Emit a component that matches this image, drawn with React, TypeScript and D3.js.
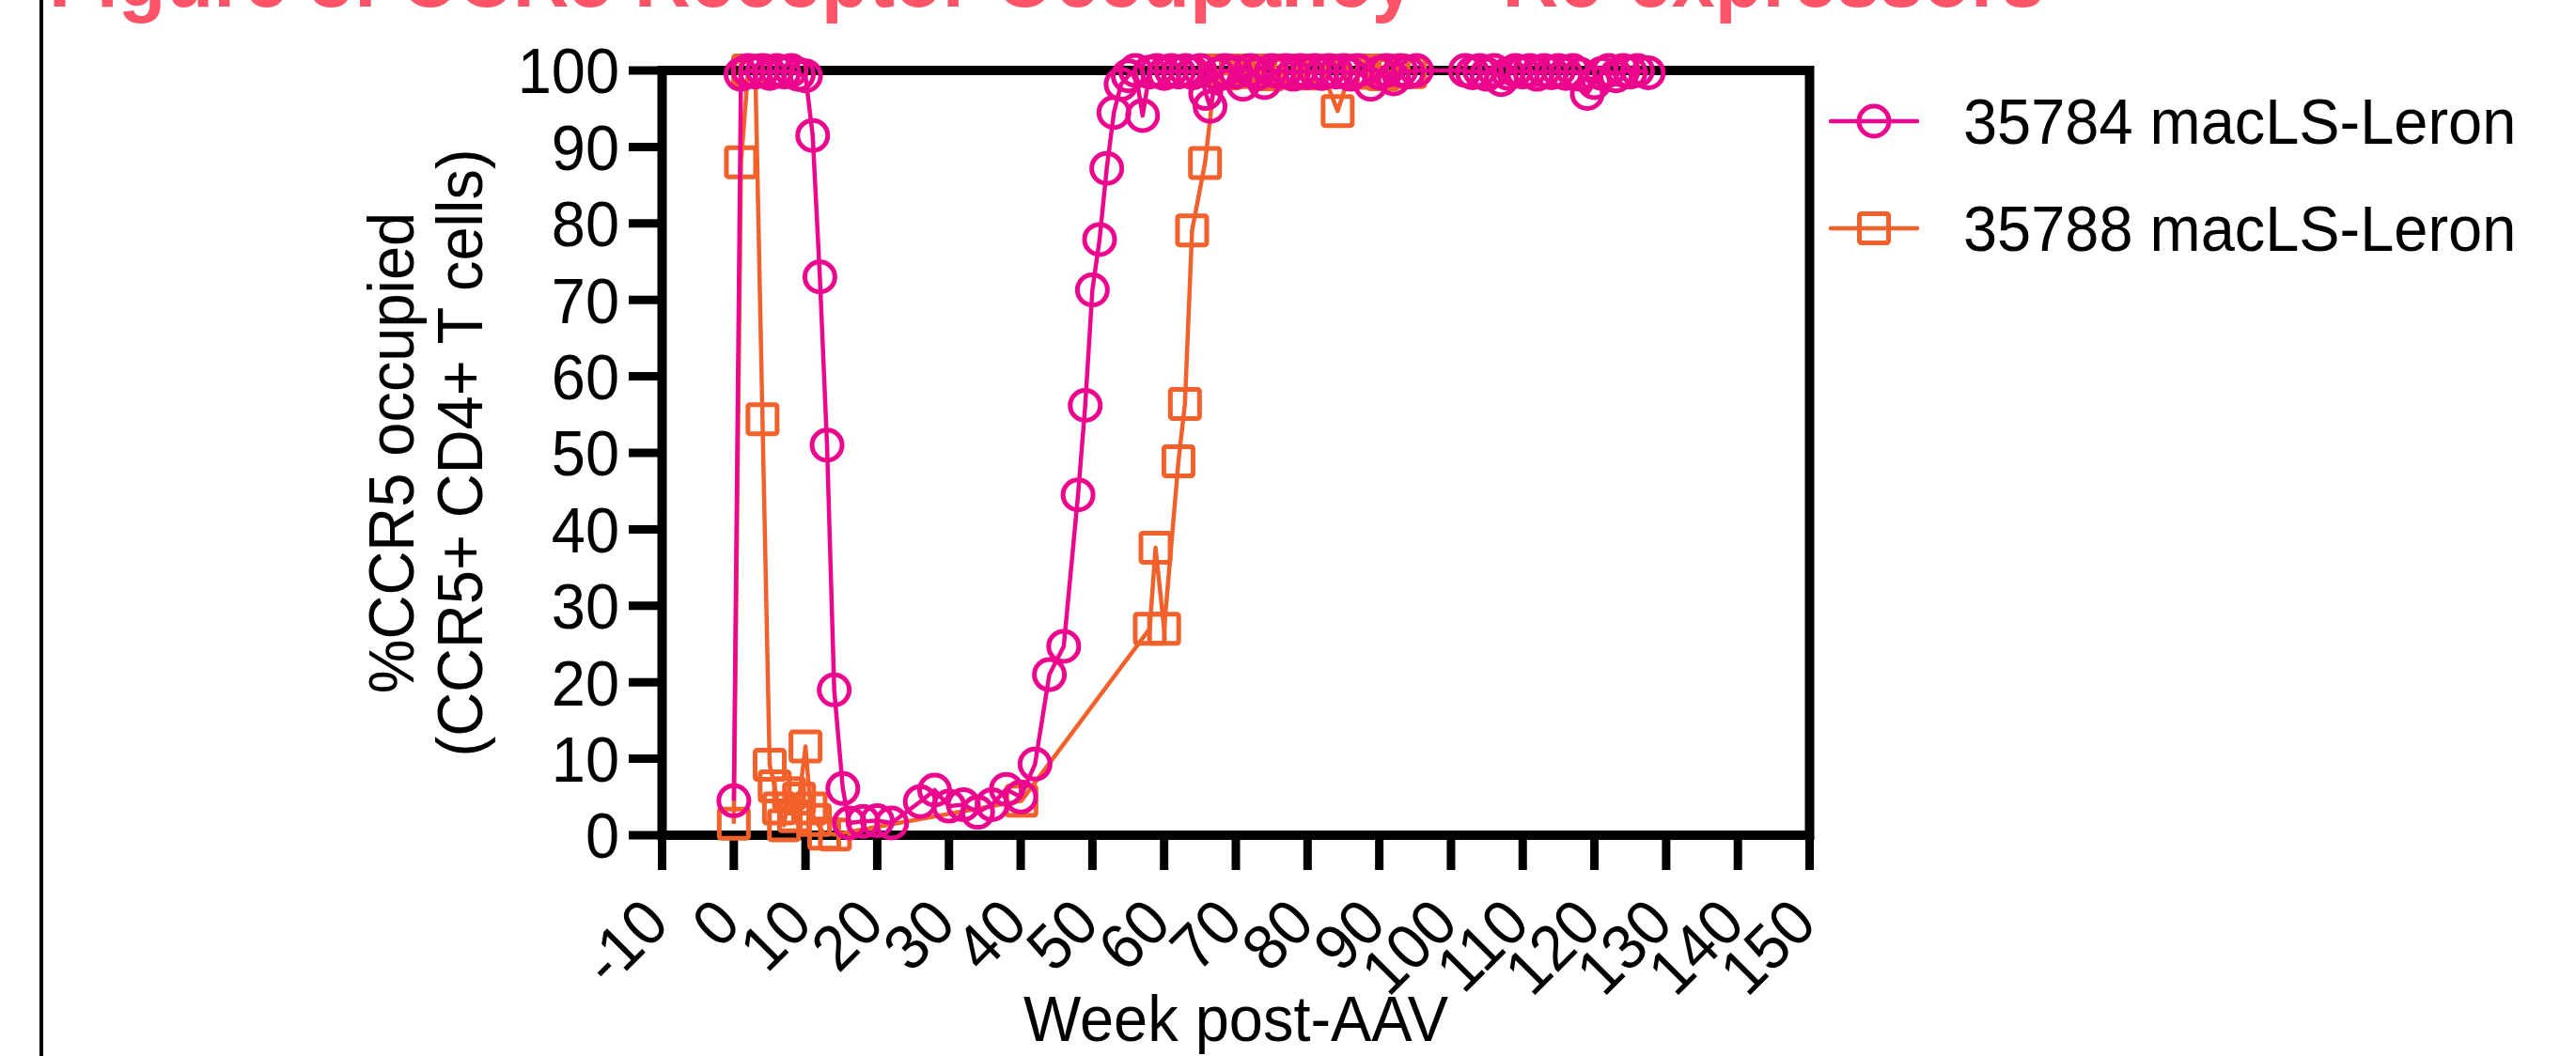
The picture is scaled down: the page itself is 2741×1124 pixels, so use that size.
import React from 'react';
import * as d3 from 'd3';

// week post-AAV and %CCR5 occupied
const weeks35784 = [
  0, 1, 2, 3, 4, 5, 6, 7, 8, 9, 10, 11, 12, 13, 14, 15.2, 16.1, 18, 20, 22,
  26, 28, 30, 32, 34, 36, 38, 40, 42, 44, 46, 48, 49, 50, 51, 52, 53, 54, 55, 56,
  57, 58, 59, 60, 61, 62, 63, 64, 65, 65.8, 66.4, 67.5, 68.5, 70, 71, 72, 73, 74, 75, 76,
  77, 78, 79, 80, 81, 82, 83, 84, 85, 86, 87, 88.8, 90, 91, 92, 93, 94, 95.2,
  102, 103, 104, 105, 106, 107, 108, 109, 110, 111, 112, 113, 114, 115, 116, 117, 118, 119, 120,
  121, 122, 123, 124, 125, 126, 127.5,
];
const occ35784 = [
  4.5, 99.5, 100, 99.8, 100, 99.6, 100, 99.8, 100, 99.5, 99.3, 91.5, 73, 51, 19, 6.1, 1.6, 1.8, 1.9, 1.6,
  4.4, 5.9, 3.8, 4.0, 3.0, 4.0, 6.0, 5.0, 9.3, 21, 24.7, 44.5, 56.2, 71.3, 77.9, 87.2, 94.5, 98.2, 99.3, 100,
  94.1, 99.8, 100, 99.6, 100, 99.8, 100, 99.7, 100, 97.0, 95.3, 99.5, 100, 99.8, 98.2, 100, 99.6, 98.4, 100, 99.8,
  100, 99.5, 100, 99.7, 100, 99.6, 100, 99.8, 100, 99.5, 100, 98.2, 99.7, 100, 98.9, 100, 99.8, 100,
  100, 99.7, 100, 99.5, 100, 98.8, 99.6, 100, 99.8, 100, 99.5, 100, 99.7, 100, 99.6, 100, 99.5, 97.0, 98.4,
  99.6, 100, 99.3, 100, 99.8, 100, 99.7,
];

const weeks35788 = [
  0, 1, 2, 3, 4, 5, 5.7, 6.3, 7, 7.7, 8.4, 9.1, 10, 10.7, 11.3, 12.6, 14.1,
  40.1, 58, 58.8, 60, 62, 62.9, 63.9, 65.7, 67.2, 68.5, 70, 71.5, 73, 74.5, 76, 77.5,
  79, 80.5, 82, 84.2, 86, 87.5, 89, 90.5, 92, 94.3,
];
const occ35788 = [
  1.5, 88, 100, 100, 54.4, 9.2, 6.4, 3.5, 1.3, 5.5, 2.5, 4.8, 11.6, 3.5, 2.0, 0.2, 0.1,
  4.5, 27, 37.6, 27, 48.9, 56.4, 79.1, 87.9, 100, 99.6, 100, 99.8, 100, 99.5, 100, 99.8,
  100, 99.6, 100, 94.7, 100, 99.7, 100, 99.5, 100, 99.8,
];

const xTickValues = [-10, 0, 10, 20, 30, 40, 50, 60, 70, 80, 90, 100, 110, 120, 130, 140, 150];
const yTickValues = [0, 10, 20, 30, 40, 50, 60, 70, 80, 90, 100];

const seriesNames = ['35784 macLS-Leron', '35788 macLS-Leron'];
const seriesColors = ['#EC068D', '#F2602B'];

const W = 2741;
const H = 1124;
const FONT = '"Liberation Sans", Arial, Helvetica, sans-serif';
// the figure's type is a touch narrower/taller than Arial
const FS = 68;
const SX = 0.955;

type TProps = {
  x: number;
  y: number;
  rotate?: number;
  anchor?: 'start' | 'middle' | 'end';
  dy?: string;
  size?: number;
  sx?: number;
  weight?: string;
  fill?: string;
  children: React.ReactNode;
};

const T = ({ x, y, rotate = 0, anchor = 'start', dy, size = FS, sx = SX, weight = 'normal', fill = '#000', children }: TProps) => (
  <text
    transform={`translate(${x},${y}) rotate(${rotate}) scale(${sx},1)`}
    textAnchor={anchor}
    dy={dy}
    fontFamily={FONT}
    fontSize={size}
    fontWeight={weight}
    fill={fill}
  >
    {children}
  </text>
);

export default function App() {
  const x = d3.scaleLinear().domain([-10, 150]).range([704.5, 1925.5]);
  const y = d3.scaleLinear().domain([0, 100]).range([889, 75]);

  const lineGen = d3
    .line<[number, number]>()
    .x(d => x(d[0]))
    .y(d => y(d[1]));

  const pts35784: [number, number][] = weeks35784.map((w, i) => [w, occ35784[i]]);
  const pts35788: [number, number][] = weeks35788.map((w, i) => [w, occ35788[i]]);

  const markR = 16;
  const sq = 31;
  const lineW = 4.5;
  const markW = 5;

  return (
    <div style={{ position: 'absolute', left: 0, top: 0 }}>
      <svg width={W} height={H} viewBox={`0 0 ${W} ${H}`} style={{ display: 'block', background: '#fff' }}>
        <rect x={0} y={0} width={W} height={H} fill="#fff" />

        {/* title, cut off at the top edge as in the figure */}
        <T x={52} y={7} size={87} sx={0.955} weight="bold" fill="#FF5468">
          Figure 3: CCR5 Receptor Occupancy – Re-expressors
        </T>
        <line x1={44} x2={44} y1={0} y2={H} stroke="#000" strokeWidth={4} />

        {/* frame */}
        <rect
          x={x(-10)}
          y={y(100)}
          width={x(150) - x(-10)}
          height={y(0) - y(100)}
          fill="none"
          stroke="#000"
          strokeWidth={10}
        />

        {/* y ticks */}
        {yTickValues.map(v => (
          <g key={`y${v}`}>
            <line x1={669} x2={x(-10)} y1={y(v)} y2={y(v)} stroke="#000" strokeWidth={9} />
            <T x={659} y={y(v)} dy="0.36em" anchor="end">
              {v}
            </T>
          </g>
        ))}

        {/* x ticks */}
        {xTickValues.map(v => (
          <g key={`x${v}`}>
            <line x1={x(v)} x2={x(v)} y1={y(0)} y2={926} stroke="#000" strokeWidth={9} />
            <T x={x(v) + 10} y={986} rotate={-45} anchor="end">
              {v}
            </T>
          </g>
        ))}

        {/* axis titles */}
        <T x={(x(-10) + x(150)) / 2} y={1108} anchor="middle">
          Week post-AAV
        </T>
        <T x={440} y={482} rotate={-90} anchor="middle">
          %CCR5 occupied
        </T>
        <T x={513} y={482} rotate={-90} anchor="middle">
          (CCR5+ CD4+ T cells)
        </T>

        {/* 35788: orange squares (drawn underneath) */}
        <path d={lineGen(pts35788) || ''} fill="none" stroke={seriesColors[1]} strokeWidth={lineW} strokeLinejoin="round" />
        {pts35788.map((d, i) => (
          <rect
            key={`s${i}`}
            x={x(d[0]) - sq / 2}
            y={y(d[1]) - sq / 2}
            width={sq}
            height={sq}
            rx={2}
            fill="none"
            stroke={seriesColors[1]}
            strokeWidth={markW}
          />
        ))}

        {/* 35784: magenta circles */}
        <path d={lineGen(pts35784) || ''} fill="none" stroke={seriesColors[0]} strokeWidth={lineW} strokeLinejoin="round" />
        {pts35784.map((d, i) => (
          <circle
            key={`c${i}`}
            cx={x(d[0])}
            cy={y(d[1])}
            r={markR}
            fill="none"
            stroke={seriesColors[0]}
            strokeWidth={markW}
          />
        ))}

        {/* legend */}
        {seriesNames.map((name, i) => {
          const ly = 129 + i * 114;
          return (
            <g key={name}>
              <line x1={1948} x2={2040} y1={ly} y2={ly} stroke={seriesColors[i]} strokeWidth={lineW} strokeLinecap="round" />
              {i === 0 ? (
                <circle cx={1994} cy={ly} r={markR} fill="none" stroke={seriesColors[i]} strokeWidth={markW} />
              ) : (
                <rect
                  x={1994 - sq / 2}
                  y={ly - sq / 2}
                  width={sq}
                  height={sq}
                  rx={2}
                  fill="none"
                  stroke={seriesColors[i]}
                  strokeWidth={markW}
                />
              )}
              <T x={2089} y={ly} dy="0.36em">
                {name}
              </T>
            </g>
          );
        })}
      </svg>
    </div>
  );
}
